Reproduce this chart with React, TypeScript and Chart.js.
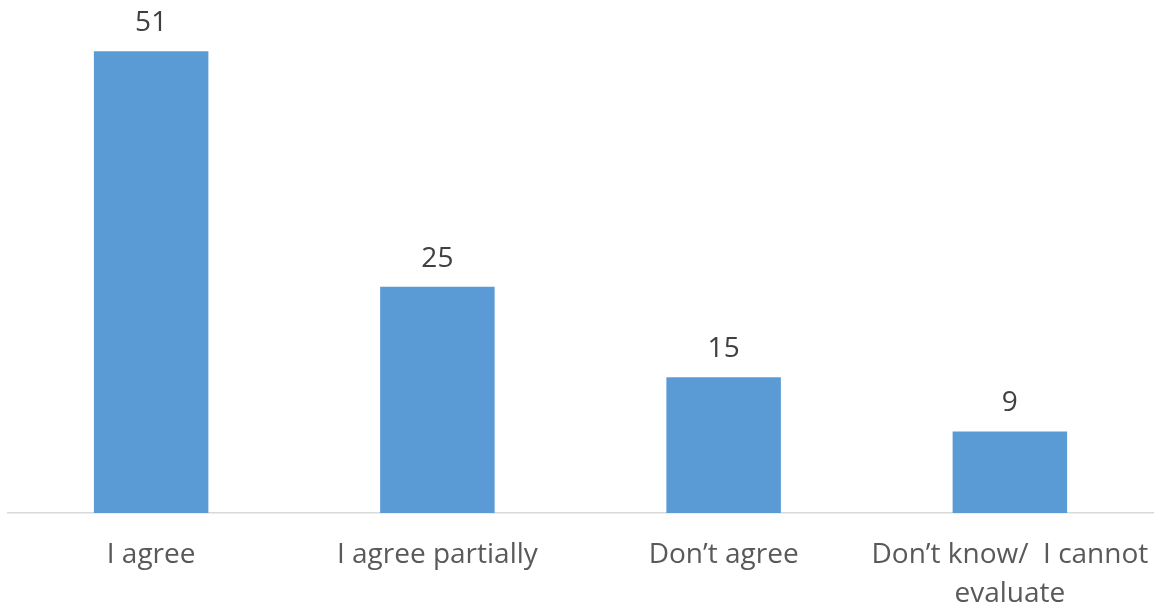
import React, { useEffect, useRef } from "react";
import { Chart, registerables } from "chart.js";

Chart.register(...registerables);

const categories: (string | string[])[] = [
  "I agree",
  "I agree partially",
  "Don\u2019t agree",
  ["Don\u2019t know/  I cannot", "evaluate"],
];
const values: number[] = [51, 25, 15, 9];

const barColor = "#5B9BD5";
const FONT = "'Open Sans', 'Noto Sans', sans-serif";

const valueLabels = {
  id: "valueLabels",
  afterDatasetsDraw(chart: any) {
    const ctx = chart.ctx;
    const meta = chart.getDatasetMeta(0);
    ctx.save();
    ctx.fillStyle = "#404040";
    ctx.font = `28px ${FONT}`;
    ctx.textAlign = "center";
    ctx.textBaseline = "middle";
    meta.data.forEach((el: any, i: number) => {
      ctx.fillText(String(values[i]), el.x, el.y - 28);
    });
    ctx.restore();
  },
};

export default function App() {
  const ref = useRef<HTMLCanvasElement | null>(null);
  useEffect(() => {
    if (!ref.current) return;
    const chart = new Chart(ref.current, {
      type: "bar",
      data: {
        labels: categories,
        datasets: [
          {
            data: values,
            backgroundColor: barColor,
            categoryPercentage: 1,
            barPercentage: 0.4,
          },
        ],
      },
      plugins: [valueLabels],
      options: {
        animation: false,
        responsive: false,
        maintainAspectRatio: false,
        layout: { padding: { left: 8, right: 6, top: 15, bottom: 0 } },
        plugins: { legend: { display: false }, tooltip: { enabled: false } },
        scales: {
          y: { display: false, min: 0, max: 55 },
          x: {
            grid: { display: false },
            border: { display: true, color: "#D9D9D9", width: 1.5 },
            ticks: {
              color: "#595959",
              font: { family: FONT, size: 28, lineHeight: 1.4 },
              padding: 14,
              maxRotation: 0,
              autoSkip: false,
            },
            afterFit: (scale: any) => {
              scale.height = 94;
              scale.paddingLeft = 0;
              scale.paddingRight = 0;
            },
          },
        },
      },
    });
    return () => chart.destroy();
  }, []);
  return (
    <div style={{ position: "absolute", left: 0, top: 0, width: 1159, height: 607, background: "#fff" }}>
      <canvas ref={ref} width={1159} height={607} style={{ width: 1159, height: 607 }} />
    </div>
  );
}
